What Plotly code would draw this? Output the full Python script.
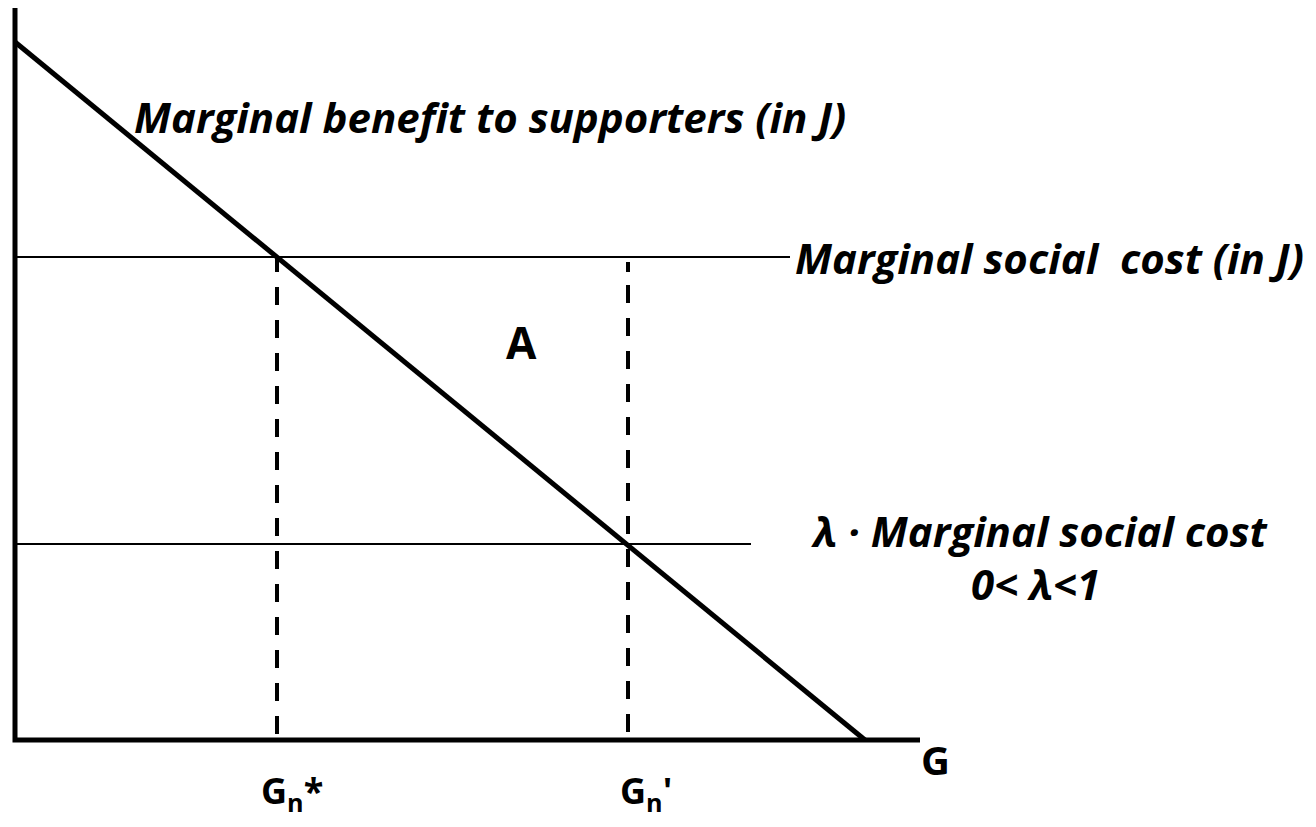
import plotly.graph_objects as go

# demand (marginal benefit) curve end points
benefit_g = [0.0, 8.50]
benefit_v = [6.98, 0.0]

# horizontal cost lines
msc_level = 4.83
msc_end = 7.75
lam_level = 1.96
lam_end = 7.36

# quantities
gn_star = 2.62
gn_prime = 6.13
gn_prime_top = 4.78

# axes extent
g_axis_end = 9.05
v_axis_end = 7.32

FONT = "Open Sans"

fig = go.Figure()

# axes
fig.add_trace(go.Scatter(x=[0, 0, g_axis_end], y=[v_axis_end, 0, 0], mode="lines",
                         line=dict(color="black", width=5)))
# cost lines
fig.add_trace(go.Scatter(x=[0, msc_end], y=[msc_level, msc_level], mode="lines",
                         line=dict(color="black", width=2)))
fig.add_trace(go.Scatter(x=[0, lam_end], y=[lam_level, lam_level], mode="lines",
                         line=dict(color="black", width=2)))
# dashed drop lines
fig.add_trace(go.Scatter(x=[gn_star, gn_star], y=[msc_level, 0], mode="lines",
                         line=dict(color="black", width=4,
                                   dash="15px,15px," + "18px,15px," * 14 + "18px,15px")))
fig.add_trace(go.Scatter(x=[gn_prime, gn_prime], y=[gn_prime_top, 0], mode="lines",
                         line=dict(color="black", width=4,
                                   dash="10px,13px," + "18px,15px," * 14 + "18px,15px")))
# marginal benefit
fig.add_trace(go.Scatter(x=benefit_g, y=benefit_v, mode="lines",
                         line=dict(color="black", width=5)))

def label(x, y, text, size, xanchor="center"):
    fig.add_annotation(x=x, y=y, text=text, showarrow=False, xanchor=xanchor,
                       yanchor="middle", font=dict(family=FONT, size=size, color="black"))

label(1.17, 6.24, "<b><i>Marginal benefit to supporters (in J)</i></b>", 42, "left")
label(7.78, 4.83, "<b><i>Marginal social  cost (in J)</i></b>", 42, "left")
label(10.25, 2.10, "<b><i>λ · Marginal social cost</i></b>", 42)
label(10.20, 1.57, "<b><i>0< λ<1</i></b>", 42)
label(5.06, 3.98, "<b>A</b>", 44)
label(9.20, -0.19, "<b>G</b>", 40)
label(2.77, -0.52, "<b>G<sub>n</sub>*</b>", 36)
label(6.31, -0.52, "<b>G<sub>n</sub>'</b>", 36)

# page body has an 8px margin, so the figure is 16px smaller and ranges shifted
fig.update_layout(
    width=1300, height=811,
    margin=dict(l=0, r=0, t=0, b=0),
    plot_bgcolor="white", paper_bgcolor="white",
    showlegend=False,
    xaxis=dict(range=[-0.07, 12.93], visible=False, fixedrange=True),
    yaxis=dict(range=[-0.79, 7.32], visible=False, fixedrange=True),
)

fig.write_html("out.html")
